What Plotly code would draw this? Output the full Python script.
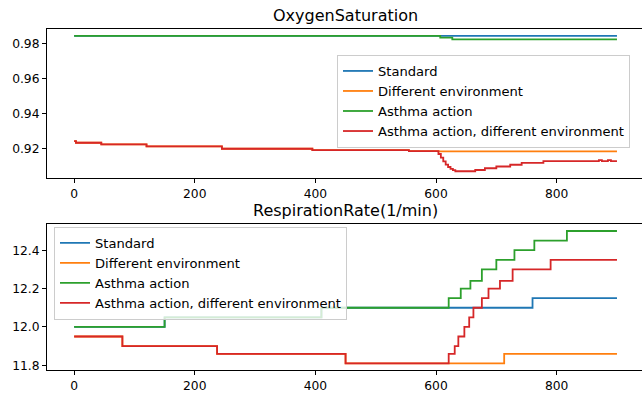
import plotly.graph_objects as go

# ---------------- data ----------------
series_names = ["Standard", "Different environment", "Asthma action",
                "Asthma action, different environment"]
colors = ["#1f77b4", "#ff7f0e", "#2ca02c", "#d62728"]

# Oxygen saturation
o2_std_x = [0, 900]
o2_std_y = [0.9843, 0.9843]
o2_env_x = [0, 3, 45, 120, 245, 395, 555, 604, 900]
o2_env_y = [0.9243, 0.9234, 0.9225, 0.9213, 0.9200, 0.9192, 0.9186, 0.9185, 0.9185]
o2_act_x = [0, 607, 627, 900]
o2_act_y = [0.9843, 0.9833, 0.9822, 0.9822]
o2_both_x = [0, 3, 45, 120, 245, 395, 555, 604, 608, 612, 616, 620, 624, 628,
             632, 665, 681, 700, 723, 742, 778, 870, 875, 885, 890, 900]
o2_both_y = [0.9243, 0.9234, 0.9225, 0.9213, 0.9200, 0.9192, 0.9186, 0.9170,
             0.9150, 0.9128, 0.9110, 0.9096, 0.9086, 0.9078, 0.9072, 0.9079,
             0.9089, 0.9099, 0.9109, 0.9120, 0.9130, 0.9135, 0.9130, 0.9135,
             0.9130, 0.9130]

# Respiration rate
rr_std_x = [0, 150, 410, 760, 900]
rr_std_y = [12.0, 12.05, 12.1, 12.15, 12.15]
rr_env_x = [0, 80, 237, 450, 713, 900]
rr_env_y = [11.95, 11.9, 11.86, 11.81, 11.86, 11.86]
rr_act_x = [0, 150, 410, 621, 641, 657, 676, 700, 730, 763, 817, 900]
rr_act_y = [12.0, 12.05, 12.1, 12.15, 12.2, 12.24, 12.3, 12.35, 12.4, 12.45, 12.5, 12.5]
rr_both_x = [0, 80, 237, 450, 621, 631, 637, 647, 655, 662, 676, 687, 706, 727, 790, 900]
rr_both_y = [11.95, 11.9, 11.86, 11.81, 11.86, 11.9, 11.95, 12.0, 12.05, 12.1,
             12.15, 12.2, 12.24, 12.3, 12.35, 12.35]

x_ticks = [0, 200, 400, 600, 800]
o2_ticks = [0.92, 0.94, 0.96, 0.98]
rr_ticks = [11.8, 12.0, 12.2, 12.4]

titles = ["OxygenSaturation", "RespirationRate(1/min)"]

# ---------------- figure ----------------
FONT = "DejaVu Sans"
fig = go.Figure()

top = [(o2_std_x, o2_std_y), (o2_env_x, o2_env_y), (o2_act_x, o2_act_y), (o2_both_x, o2_both_y)]
bot = [(rr_std_x, rr_std_y), (rr_env_x, rr_env_y), (rr_act_x, rr_act_y), (rr_both_x, rr_both_y)]

for i, (xs, ys) in enumerate(top):
    fig.add_trace(go.Scatter(x=xs, y=ys, mode="lines", name=series_names[i],
                             line=dict(color=colors[i], width=1.8, shape="hv"),
                             xaxis="x", yaxis="y", legend="legend"))
for i, (xs, ys) in enumerate(bot):
    fig.add_trace(go.Scatter(x=xs, y=ys, mode="lines", name=series_names[i],
                             line=dict(color=colors[i], width=1.8, shape="hv"),
                             xaxis="x2", yaxis="y2", legend="legend2"))

axis_common = dict(showline=True, linecolor="black", linewidth=1, ticks="outside",
                   ticklen=4, tickcolor="black", tickwidth=1, showgrid=False,
                   zeroline=False, tickfont=dict(family=FONT, size=12.3, color="black"))

top_dom = [0.563, 1.0]
bot_dom = [0.0, 0.427]

legend_style = dict(bgcolor="rgba(255,255,255,0.8)", bordercolor="#cccccc", borderwidth=1,
                    font=dict(family=FONT, size=13.1, color="black"))

fig.update_layout(
    width=642, height=395,
    margin=dict(l=47, r=0, t=29, b=25),
    paper_bgcolor="white", plot_bgcolor="white",
    font=dict(family=FONT, size=12, color="black"),
    xaxis=dict(domain=[0, 1], anchor="y", range=[-45, 941.5], tickvals=x_ticks,
               mirror=True, **axis_common),
    yaxis=dict(domain=top_dom, anchor="x", range=[0.90334, 0.98816], tickvals=o2_ticks,
               tickformat=".2f", **axis_common),
    xaxis2=dict(domain=[0, 1], anchor="y2", range=[-45, 941.5], tickvals=x_ticks,
                mirror=True, **axis_common),
    yaxis2=dict(domain=bot_dom, anchor="x2", range=[11.7755, 12.5345], tickvals=rr_ticks,
                tickformat=".1f", **axis_common),
    legend=dict(x=(337 - 47) / 595, xanchor="left", y=0.924, yanchor="top", **legend_style),
    legend2=dict(x=(54 - 47) / 595, xanchor="left", y=0.420, yanchor="top", **legend_style),
    showlegend=True,
)

for title, dom in zip(titles, [top_dom, bot_dom]):
    fig.add_annotation(text=title, xref="paper", yref="paper", x=0.502, y=dom[1],
                       xanchor="center", yanchor="bottom", yshift=2, showarrow=False,
                       font=dict(family=FONT, size=16, color="black"))

fig.write_html("out.html", config={"displayModeBar": False},
               post_script="document.body.style.margin='0';document.body.style.overflow='hidden';")
